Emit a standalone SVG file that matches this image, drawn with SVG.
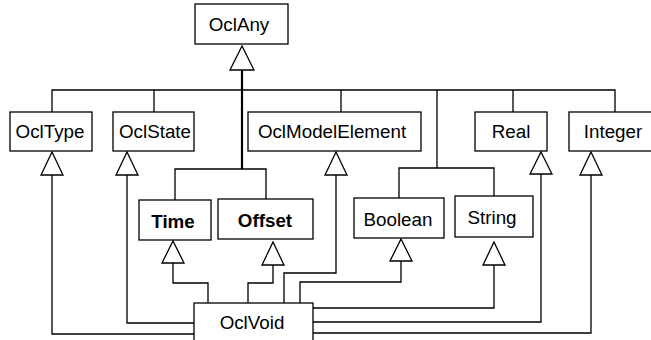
<svg xmlns="http://www.w3.org/2000/svg" width="651" height="340" viewBox="0 0 651 340">
  <style>
    .box { fill: #fff; stroke: #000; stroke-width: 1.3; }
    .lbl { font-family: "Liberation Sans", Arial, sans-serif; font-size: 18.8px; fill: #000; text-anchor: middle; }
    .bold { font-weight: bold; }
    .wire { fill: none; stroke: #000; stroke-width: 1.3; }
    .thick { fill: none; stroke: #000; stroke-width: 2.2; }
    .head { fill: #fff; stroke: #000; stroke-width: 1.3; stroke-linejoin: miter; }
  </style>
  <rect width="651" height="340" fill="#fff"/>

  <!-- generalization connectors -->
  <g id="connectors">
    <!-- OclAny hierarchy -->
    <path class="thick" d="M242 70 V169"/>
    <path class="wire" d="M52 112 V90 H615 V112 M154 90 V112 M341 90 V112 M513 90 V112 M437 90 V168"/>
    <path class="wire" d="M175 200 V169 H266 V199"/>
    <path class="wire" d="M399 198 V168 H494 V196"/>
    <!-- OclVoid to every type -->
    <path class="wire" d="M194 334 H52 V175"/>
    <path class="wire" d="M194 323 H127 V175"/>
    <path class="wire" d="M208 303 V283 H173 V263"/>
    <path class="wire" d="M248 303 V283 H273 V265"/>
    <path class="wire" d="M284 303 V273 H336 V175"/>
    <path class="wire" d="M300 303 V282 H401 V261"/>
    <path class="wire" d="M313 308 H494 V265"/>
    <path class="wire" d="M313 322 H541 V174"/>
    <path class="wire" d="M313 333 H591 V175"/>
    <!-- hollow triangle heads -->
    <polygon class="head" points="242,46 254,70 230,70"/>
    <polygon class="head" points="52,152 63,175 41,175"/>
    <polygon class="head" points="127,152 138,175 116,175"/>
    <polygon class="head" points="336,152 347,175 325,175"/>
    <polygon class="head" points="541,152 552,174 530,174"/>
    <polygon class="head" points="591,152 602,175 580,175"/>
    <polygon class="head" points="173,241 184,263 162,263"/>
    <polygon class="head" points="273,242 284,265 262,265"/>
    <polygon class="head" points="401,239 412,261 390,261"/>
    <polygon class="head" points="494,242 505,265 483,265"/>
  </g>

  <g id="OclAny">
    <rect class="box" x="195" y="4" width="93" height="40"/>
    <text class="lbl" x="239" y="30.5">OclAny</text>
  </g>
  <g id="OclType">
    <rect class="box" x="10" y="112" width="82" height="39"/>
    <text class="lbl" x="50" y="138">OclType</text>
  </g>
  <g id="OclState">
    <rect class="box" x="113" y="112" width="81" height="39"/>
    <text class="lbl" x="155" y="138">OclState</text>
  </g>
  <g id="OclModelElement">
    <rect class="box" x="248" y="112" width="173" height="39"/>
    <text class="lbl" x="332" y="138">OclModelElement</text>
  </g>
  <g id="Real">
    <rect class="box" x="475" y="112" width="72" height="39"/>
    <text class="lbl" x="511" y="138">Real</text>
  </g>
  <g id="Integer">
    <rect class="box" x="569" y="112" width="90" height="39"/>
    <text class="lbl" x="613" y="138">Integer</text>
  </g>
  <g id="Time">
    <rect class="box" x="139" y="200" width="72" height="40"/>
    <text class="lbl bold" x="173" y="228">Time</text>
  </g>
  <g id="Offset">
    <rect class="box" x="218" y="199" width="95" height="40"/>
    <text class="lbl bold" x="265" y="227">Offset</text>
  </g>
  <g id="Boolean">
    <rect class="box" x="354" y="198" width="90" height="40"/>
    <text class="lbl" x="398" y="226">Boolean</text>
  </g>
  <g id="String">
    <rect class="box" x="455" y="196" width="78" height="41"/>
    <text class="lbl" x="492" y="224">String</text>
  </g>
  <g id="OclVoid">
    <rect class="box" x="194" y="303" width="119" height="45"/>
    <text class="lbl" x="252" y="329">OclVoid</text>
  </g>
</svg>
